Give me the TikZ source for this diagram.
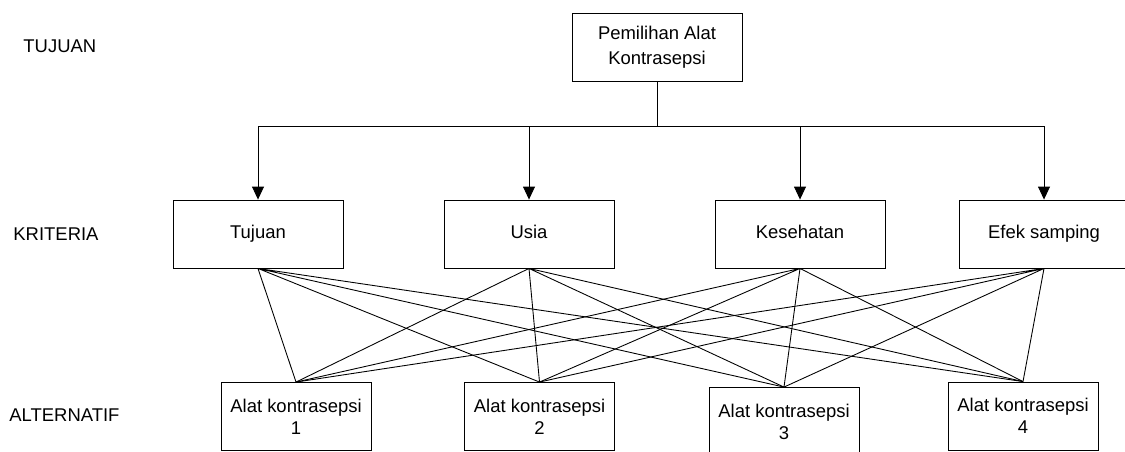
\documentclass[tikz,border=0pt]{standalone}
\usepackage{fontspec}
\setmainfont{Liberation Sans}
\usetikzlibrary{arrows.meta,positioning}

\begin{document}
\begin{tikzpicture}[x=0.02cm,y=-0.02cm,line width=0.5pt,every node/.style={font=\fontsize{10.5}{12.5}\selectfont,align=center},
  tingkat/.style={anchor=west,inner sep=0pt},
  kotak/.style={draw,minimum width=3.4cm,minimum height=1.36cm,inner sep=0pt},
  kriteria/.style={kotak,text height=7.6pt,text depth=2.2pt},
  altbox/.style={draw,minimum width=3cm,minimum height=1.36cm,inner sep=0pt},
  panah/.style={-{Triangle[width=6.8pt,length=7.4pt]}}]
\useasboundingbox (0,0) rectangle (1125,451);
\node[tingkat] (lTujuan) at (23,46) {TUJUAN};
\node[tingkat] (lKriteria) at (13,234) {KRITERIA};
\node[tingkat] (lAlternatif) at (9,415) {ALTERNATIF};
\node[kotak,font=\fontsize{10.5}{14}\selectfont] (goal) at (657,47) {Pemilihan Alat\\Kontrasepsi};
\coordinate (bus) at (657,126.5);
\node[kriteria] (k1) at (258,234) {Tujuan};
\node[kriteria] (k2) at (529,234) {Usia};
\node[kriteria] (k3) at (800,234) {Kesehatan};
\node[kriteria] (k4) at (1044,234) {Efek samping};
\node[altbox] (a1) at (296,416.5) {Alat kontrasepsi\\1};
\node[altbox] (a2) at (539.5,416.5) {Alat kontrasepsi\\2};
\node[altbox] (a3) at (784,421.5) {Alat kontrasepsi\\3};
\node[altbox] (a4) at (1023,416) {Alat kontrasepsi\\4};
\draw[panah] (goal.south)--(bus)-|(k1.north); \draw[panah] (goal.south)--(bus)-|(k2.north); \draw[panah] (goal.south)--(bus)-|(k3.north); \draw[panah] (goal.south)--(bus)-|(k4.north);
\draw (k1.south)--(a1.north) (k1.south)--(a2.north) (k1.south)--(a3.north) (k1.south)--(a4.north);
\draw (k2.south)--(a1.north) (k2.south)--(a2.north) (k2.south)--(a3.north) (k2.south)--(a4.north);
\draw (k3.south)--(a1.north) (k3.south)--(a2.north) (k3.south)--(a3.north) (k3.south)--(a4.north);
\draw (k4.south)--(a1.north) (k4.south)--(a2.north) (k4.south)--(a3.north) (k4.south)--(a4.north);
\end{tikzpicture}
\end{document}
